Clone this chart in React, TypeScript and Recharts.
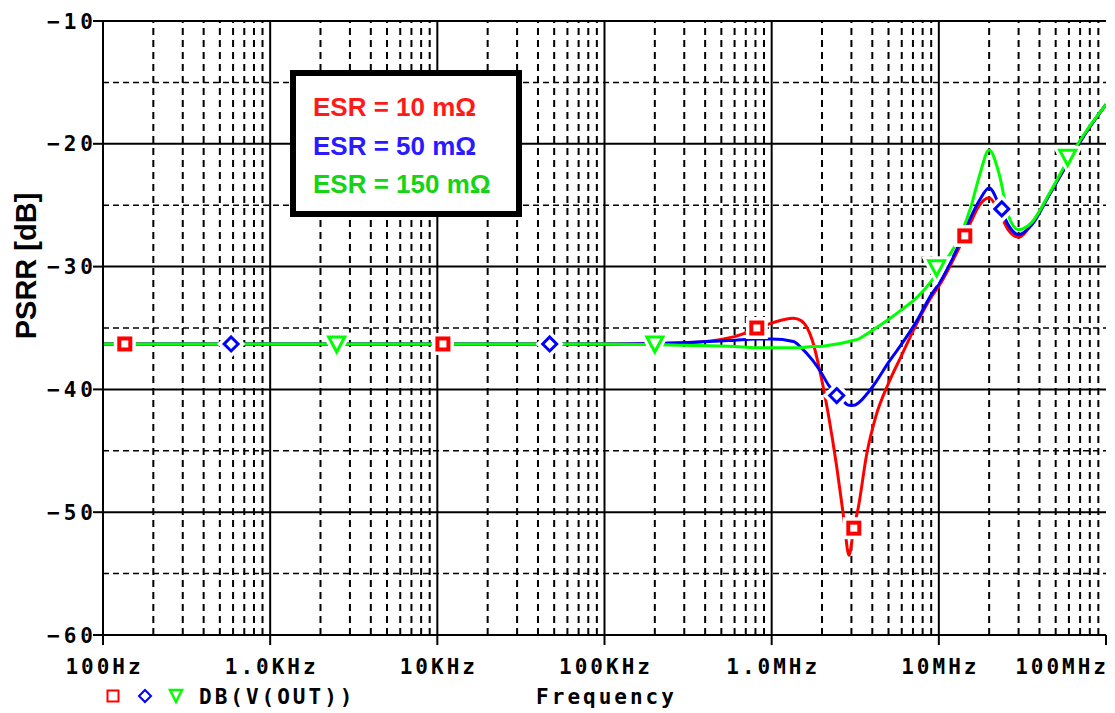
import { ComposedChart, Line, XAxis, YAxis, ReferenceLine } from "recharts";

// frequency points (Hz) shared by the three traces
const freq = [
  100, 1e3, 1e4, 1e5, 3e5, 6e5, 8e5, 1e6, 1.35e6, 1.5e6, 1.75e6, 1.95e6, 2.2e6,
  2.45e6, 2.7e6, 2.9e6, 3.1e6, 3.3e6, 3.7e6, 4.2e6, 5e6, 6e6, 7.4e6, 9e6, 1e7,
  1.35e7, 1.55e7, 1.75e7, 2e7, 2.3e7, 2.6e7, 3e7, 3.6e7, 4.6e7, 6e7, 7.5e7, 1e8,
];

// PSRR in dB
const esr10 = [
  -36.3, -36.3, -36.3, -36.3, -36.2, -35.7, -35.1, -34.6, -34.2, -34.4, -36.0,
  -38.6, -42.3, -46.3, -50.5, -53.5, -51.3, -49.6, -45.3, -42.2, -39.5, -37.2,
  -34.6, -32.5, -31.6, -28.2, -26.4, -25.0, -24.4, -25.6, -27.0, -27.6, -26.5,
  -24.1, -21.4, -19.2, -16.8,
];
const esr50 = [
  -36.3, -36.3, -36.3, -36.3, -36.2, -36.0, -35.9, -35.9, -36.1, -36.6, -37.6,
  -38.5, -39.7, -40.5, -41.0, -41.3, -41.3, -41.1, -40.4, -39.4, -37.8, -36.3,
  -34.4, -32.3, -31.4, -27.9, -26.0, -24.6, -23.6, -25.0, -26.6, -27.4, -26.6,
  -24.1, -21.4, -19.2, -16.8,
];
const esr150 = [
  -36.3, -36.3, -36.3, -36.3, -36.4, -36.5, -36.6, -36.6, -36.6, -36.6, -36.5,
  -36.5, -36.4, -36.3, -36.2, -36.1, -36.0, -35.9, -35.5, -35.0, -34.3, -33.5,
  -32.5, -31.2, -30.3, -27.4, -25.2, -22.6, -20.5, -22.5, -25.8, -27.0, -26.4,
  -24.0, -21.2, -19.1, -16.8,
];

// marker positions (PSpice symbols)
const mark10F = [135, 10.8e3, 815e3, 3.1e6, 14.3e6];
const mark10V = [-36.3, -36.3, -35.0, -51.3, -27.5];
const mark50F = [584, 47e3, 2.45e6, 23.8e6];
const mark50V = [-36.3, -36.3, -40.5, -25.3];
const mark150F = [2.5e3, 200e3, 9.7e6, 59e6];
const mark150V = [-36.3, -36.3, -30.1, -21.1];

const xTicks = [1e2, 1e3, 1e4, 1e5, 1e6, 1e7, 1e8];
const xLabels = ["100Hz", "1.0KHz", "10KHz", "100KHz", "1.0MHz", "10MHz", "100MHz"];
const yTicks = [-60, -50, -40, -30, -20, -10];
const yMinor = [-55, -45, -35, -25, -15];
const minorMult = [2, 3, 4, 5, 6, 7, 8, 9];

const legendItems = [
  { text: "ESR = 10 mΩ", color: "#ff1a1a" },
  { text: "ESR = 50 mΩ", color: "#2a1aff" },
  { text: "ESR = 150 mΩ", color: "#14d414" },
];

const RED = "#ff0000";
const BLUE = "#0000ff";
const GREEN = "#00ff00";
const mono = "'DejaVu Sans Mono', monospace";

const data = freq.map((f, i) => ({ f, r: esr10[i], b: esr50[i], g: esr150[i] }));
const toPts = (fs: number[], vs: number[]) => fs.map((f, i) => ({ f, v: vs[i] }));

const xMinor = xTicks.slice(0, -1).flatMap((d) => minorMult.map((m) => m * d));

const Square = (p: any) => (
  <g key={`s${p.index}`}>
    <rect x={p.cx - 6} y={p.cy - 6} width={12} height={12} fill="white" stroke="white" strokeWidth={10} />
    <rect x={p.cx - 5.5} y={p.cy - 5.5} width={11} height={11} fill="white" stroke={RED} strokeWidth={4} />
  </g>
);
const diamondPath = (cx: number, cy: number, r: number) =>
  `M${cx},${cy - r}L${cx + r},${cy}L${cx},${cy + r}L${cx - r},${cy}Z`;
const Diamond = (p: any) => (
  <g key={`d${p.index}`}>
    <path d={diamondPath(p.cx, p.cy, 7)} fill="white" stroke="white" strokeWidth={10} />
    <path d={diamondPath(p.cx, p.cy, 7)} fill="white" stroke={BLUE} strokeWidth={3} />
  </g>
);
const triPath = (cx: number, cy: number, w: number) =>
  `M${cx - w},${cy - w + 1}L${cx + w},${cy - w + 1}L${cx},${cy + w}Z`;
const Triangle = (p: any) => (
  <g key={`t${p.index}`}>
    <path d={triPath(p.cx, p.cy, 8)} fill="white" stroke="white" strokeWidth={9} />
    <path d={triPath(p.cx, p.cy, 8)} fill="white" stroke={GREEN} strokeWidth={3} />
  </g>
);

const XTick = (p: any) => {
  const v = p.payload.value;
  const last = v === 1e8;
  return (
    <text
      x={last ? p.x + 3 : p.x + 1.5}
      y={p.y + 29}
      textAnchor={last ? "end" : "middle"}
      fontFamily={mono}
      fontWeight="bold"
      fontSize={21}
      letterSpacing={3}
      fill="#000"
    >
      {xLabels[xTicks.indexOf(v)]}
    </text>
  );
};

const YTick = (p: any) => (
  <text
    x={p.x + 4}
    y={p.y + 7.5}
    textAnchor="end"
    fontFamily={mono}
    fontWeight="bold"
    fontSize={21}
    letterSpacing={4}
    fill="#000"
  >
    {String(p.payload.value).replace("-", "\u2212")}
  </text>
);

const XLabel = (p: any) => {
  const vb = p.viewBox;
  return (
    <g>
      <text
        x={vb.x + vb.width / 2 + 2}
        y={704}
        textAnchor="middle"
        fontFamily={mono}
        fontWeight="bold"
        fontSize={21}
        letterSpacing={3}
        fill="#000"
      >
        Frequency
      </text>
      <rect x={107.5} y={690.5} width={11} height={11} fill="none" stroke={RED} strokeWidth={2} />
      <path d={diamondPath(145, 696, 6)} fill="none" stroke={BLUE} strokeWidth={2} />
      <path d={`M170,690L182,690L176,702Z`} fill="none" stroke={GREEN} strokeWidth={2.5} />
      <text x={199} y={704} fontFamily={mono} fontWeight="bold" fontSize={21} letterSpacing={3} fill="#000">
        DB(V(OUT))
      </text>
    </g>
  );
};

const YLabel = () => (
  <text
    x={26}
    y={266}
    transform="rotate(-90, 26, 266)"
    textAnchor="middle"
    dominantBaseline="central"
    fontFamily="'Liberation Sans', Arial, sans-serif"
    fontWeight="bold"
    fontSize={29}
    fill="#000"
  >
    PSRR [dB]
  </text>
);

export default function App() {
  return (
    <div style={{ position: "absolute", left: 0, top: 0, width: 1115, height: 713, background: "#fff" }}>
      <ComposedChart width={1115} height={713} data={data} margin={{ top: 21, right: 9, bottom: 0, left: 0 }}>
        <XAxis
          dataKey="f"
          type="number"
          scale="log"
          domain={[100, 1e8]}
          ticks={xTicks}
          interval={0}
          allowDataOverflow
          height={78}
          tickSize={10}
          tickMargin={0}
          tick={<XTick />}
          axisLine={{ stroke: "#000", strokeWidth: 2 }}
          tickLine={{ stroke: "#000", strokeWidth: 2 }}
          label={<XLabel />}
        />
        <YAxis
          type="number"
          domain={[-60, -10]}
          ticks={yTicks}
          interval={0}
          allowDataOverflow
          width={103}
          tickSize={10}
          tickMargin={0}
          tick={<YTick />}
          axisLine={{ stroke: "#000", strokeWidth: 2 }}
          tickLine={{ stroke: "#000", strokeWidth: 2 }}
          label={<YLabel />}
        />
        <YAxis
          yAxisId="frame"
          orientation="right"
          type="number"
          domain={[-60, -10]}
          width={0}
          tick={false}
          tickLine={false}
          axisLine={{ stroke: "#000", strokeWidth: 2 }}
        />
        {xMinor.map((v) => (
          <ReferenceLine key={`vx${v}`} x={v} stroke="#000" strokeWidth={2} strokeDasharray="7 5" />
        ))}
        {yMinor.map((v) => (
          <ReferenceLine key={`hy${v}`} y={v} stroke="#000" strokeWidth={1.5} strokeDasharray="6 4" />
        ))}
        {xTicks.slice(1, -1).map((v) => (
          <ReferenceLine key={`VX${v}`} x={v} stroke="#000" strokeWidth={2} />
        ))}
        {yTicks.slice(1).map((v) => (
          <ReferenceLine key={`HY${v}`} y={v} stroke="#000" strokeWidth={2} ifOverflow="visible" />
        ))}
        <Line dataKey="r" stroke={RED} strokeWidth={3} dot={false} activeDot={false} type="monotone" isAnimationActive={false} />
        <Line dataKey="b" stroke={BLUE} strokeWidth={3} dot={false} activeDot={false} type="monotone" isAnimationActive={false} />
        <Line dataKey="g" stroke={GREEN} strokeWidth={3} dot={false} activeDot={false} type="monotone" isAnimationActive={false} />
        <Line data={toPts(mark10F, mark10V)} dataKey="v" stroke="none" dot={Square} activeDot={false} isAnimationActive={false} />
        <Line data={toPts(mark50F, mark50V)} dataKey="v" stroke="none" dot={Diamond} activeDot={false} isAnimationActive={false} />
        <Line data={toPts(mark150F, mark150V)} dataKey="v" stroke="none" dot={Triangle} activeDot={false} isAnimationActive={false} />
      </ComposedChart>
      <div
        style={{
          position: "absolute",
          left: 290,
          top: 70,
          width: 232,
          height: 147,
          boxSizing: "border-box",
          border: "6px solid #000",
          background: "#fff",
          paddingLeft: 17,
          paddingTop: 12,
          fontFamily: "'Liberation Sans', Arial, sans-serif",
          fontWeight: "bold",
          fontSize: 26,
          lineHeight: "38.5px",
        }}
      >
        {legendItems.map((it) => (
          <div key={it.text} style={{ color: it.color, whiteSpace: "nowrap" }}>
            {it.text}
          </div>
        ))}
      </div>
    </div>
  );
}
